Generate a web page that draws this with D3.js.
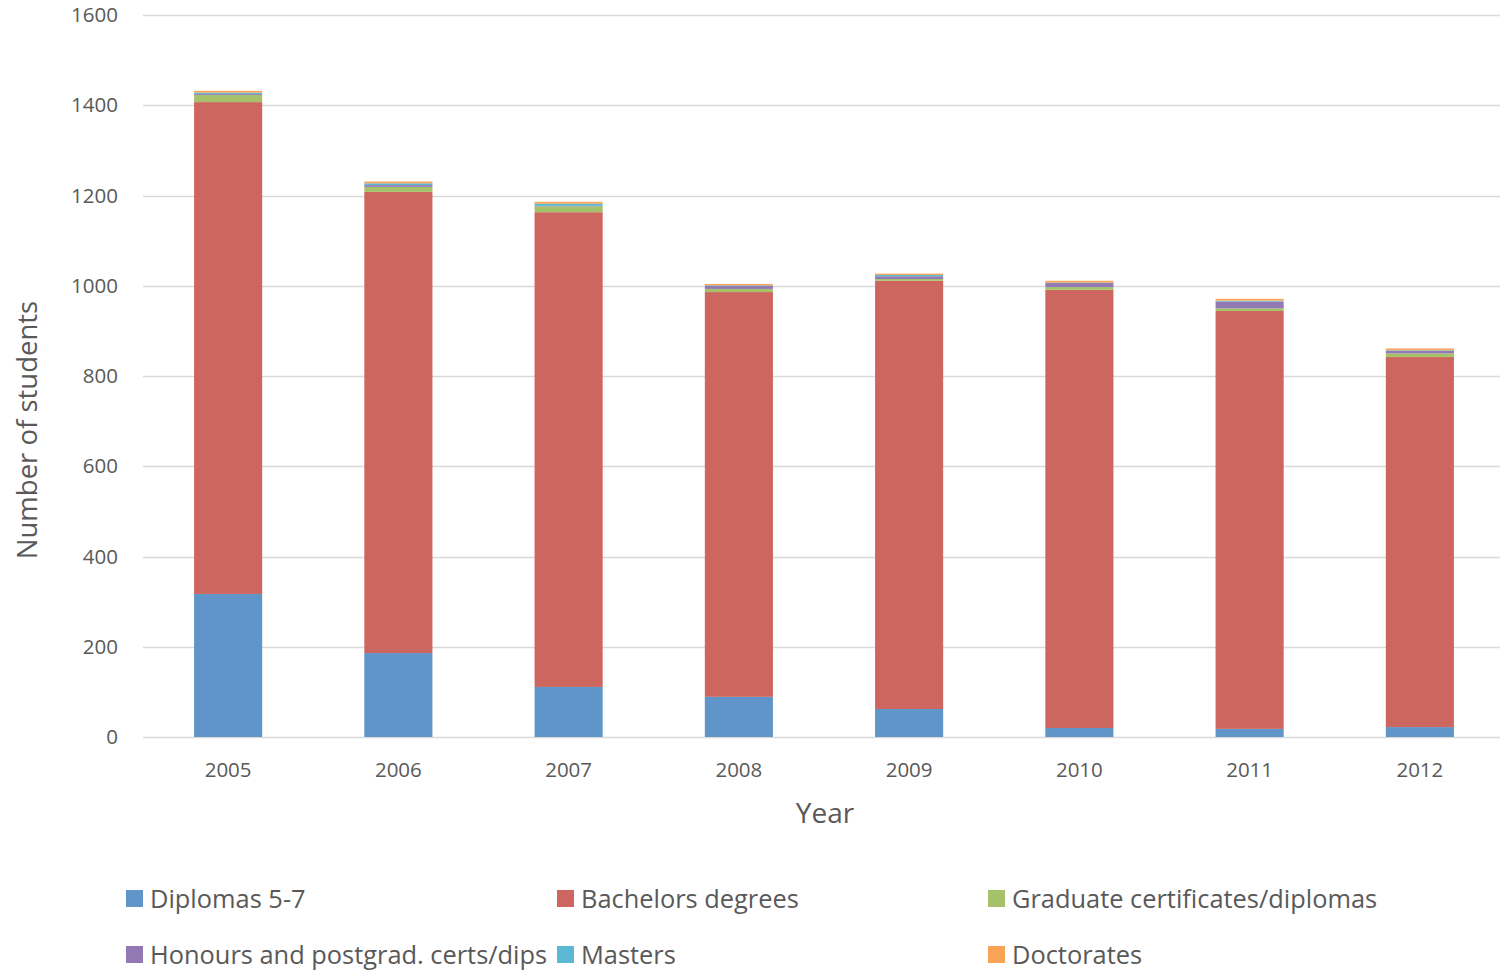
<!DOCTYPE html>
<html>
  <head>
    <meta http-equiv="Content-type" content="text/html; charset=utf-8">
    <title>Students by qualification</title>
    <script src="https://d3js.org/d3.v7.min.js"></script>
    <style>
      body { margin: 0; background: #fff; }
      text { font-family: "Open Sans", sans-serif; fill: #595959; }
    </style>
  </head>
  <body>
    <div id="chart"></div>
    <script type="text/javascript">
      // data
      var years = ["2005", "2006", "2007", "2008", "2009", "2010", "2011", "2012"];
      var seriesNames = ["Diplomas 5-7", "Bachelors degrees", "Graduate certificates/diplomas",
        "Honours and postgrad. certs/dips", "Masters", "Doctorates"];
      var diplomas   = [317, 186, 111, 89, 62, 20, 18, 22];
      var bachelors  = [1090, 1022, 1052, 897, 949, 971, 926, 820];
      var gradCerts  = [16, 11, 13, 7, 4, 6, 6, 8];
      var honours    = [2, 4, 1, 7, 6, 9, 15, 6];
      var masters    = [3, 4, 5, 1, 3, 1, 2, 1];
      var doctorates = [4, 4, 4, 3, 3, 4, 4, 4];
      var yTicks = [0, 200, 400, 600, 800, 1000, 1200, 1400, 1600];

      var colors = ["#6095c9", "#cd665e", "#a5c26a", "#9279b4", "#5bb8d2", "#f8a356"];
      var allSeries = [diplomas, bachelors, gradCerts, honours, masters, doctorates];

      var width = 1500, height = 970;

      var rows = years.map(function(y, i) {
        var r = { year: y };
        seriesNames.forEach(function(n, j) { r[n] = allSeries[j][i]; });
        return r;
      });

      var stack = d3.stack().keys(seriesNames);
      var layers = stack(rows);

      var x = d3.scaleBand()
        .domain(years)
        .range([143, 1505])
        .paddingInner(0.6)
        .paddingOuter(0.3);

      var y = d3.scaleLinear()
        .domain([0, 1600])
        .range([737, 15]);

      var svg = d3.select("#chart").append("svg")
        .attr("width", width)
        .attr("height", height);

      // gridlines
      svg.append("g")
        .selectAll("line")
        .data(yTicks)
        .enter().append("line")
        .attr("x1", 143)
        .attr("x2", 1500)
        .attr("y1", function(d) { return Math.round(y(d)) + 0.5; })
        .attr("y2", function(d) { return Math.round(y(d)) + 0.5; })
        .style("stroke", "#d9d9d9")
        .style("stroke-width", 1.5);

      // y tick labels
      svg.append("g")
        .selectAll("text")
        .data(yTicks)
        .enter().append("text")
        .attr("x", 118)
        .attr("y", function(d) { return y(d); })
        .attr("dy", "0.35em")
        .attr("text-anchor", "end")
        .style("font-size", "20.5px")
        .text(function(d) { return d; });

      // bars
      svg.append("g")
        .selectAll("g")
        .data(layers)
        .enter().append("g")
        .style("fill", function(d, i) { return colors[i]; })
        .selectAll("rect")
        .data(function(d) { return d; })
        .enter().append("rect")
        .attr("x", function(d) { return x(d.data.year); })
        .attr("y", function(d) { return y(d[1]); })
        .attr("width", x.bandwidth())
        .attr("height", function(d) { return y(d[0]) - y(d[1]); });

      // x tick labels
      svg.append("g")
        .selectAll("text")
        .data(years)
        .enter().append("text")
        .attr("x", function(d) { return x(d) + x.bandwidth() / 2; })
        .attr("y", 770)
        .attr("dy", "0.35em")
        .attr("text-anchor", "middle")
        .style("font-size", "20.5px")
        .text(function(d) { return d; });

      // axis titles
      svg.append("text")
        .attr("x", 825)
        .attr("y", 813)
        .attr("dy", "0.35em")
        .attr("text-anchor", "middle")
        .style("font-size", "28px")
        .text("Year");

      svg.append("text")
        .attr("transform", "translate(27,430) rotate(-90)")
        .attr("dy", "0.35em")
        .attr("text-anchor", "middle")
        .style("font-size", "27.5px")
        .text("Number of students");

      // legend
      var legendPos = [[126, 899], [557, 899], [988, 899], [126, 955], [557, 955], [988, 955]];
      var legend = svg.append("g")
        .selectAll("g")
        .data(seriesNames)
        .enter().append("g")
        .attr("transform", function(d, i) { return "translate(" + legendPos[i][0] + "," + legendPos[i][1] + ")"; });

      legend.append("rect")
        .attr("x", 0)
        .attr("y", -9)
        .attr("width", 17)
        .attr("height", 17)
        .style("fill", function(d, i) { return colors[i]; });

      legend.append("text")
        .attr("x", 24)
        .attr("dy", "0.35em")
        .style("font-size", "25.4px")
        .text(function(d) { return d; });
    </script>
  </body>
</html>
